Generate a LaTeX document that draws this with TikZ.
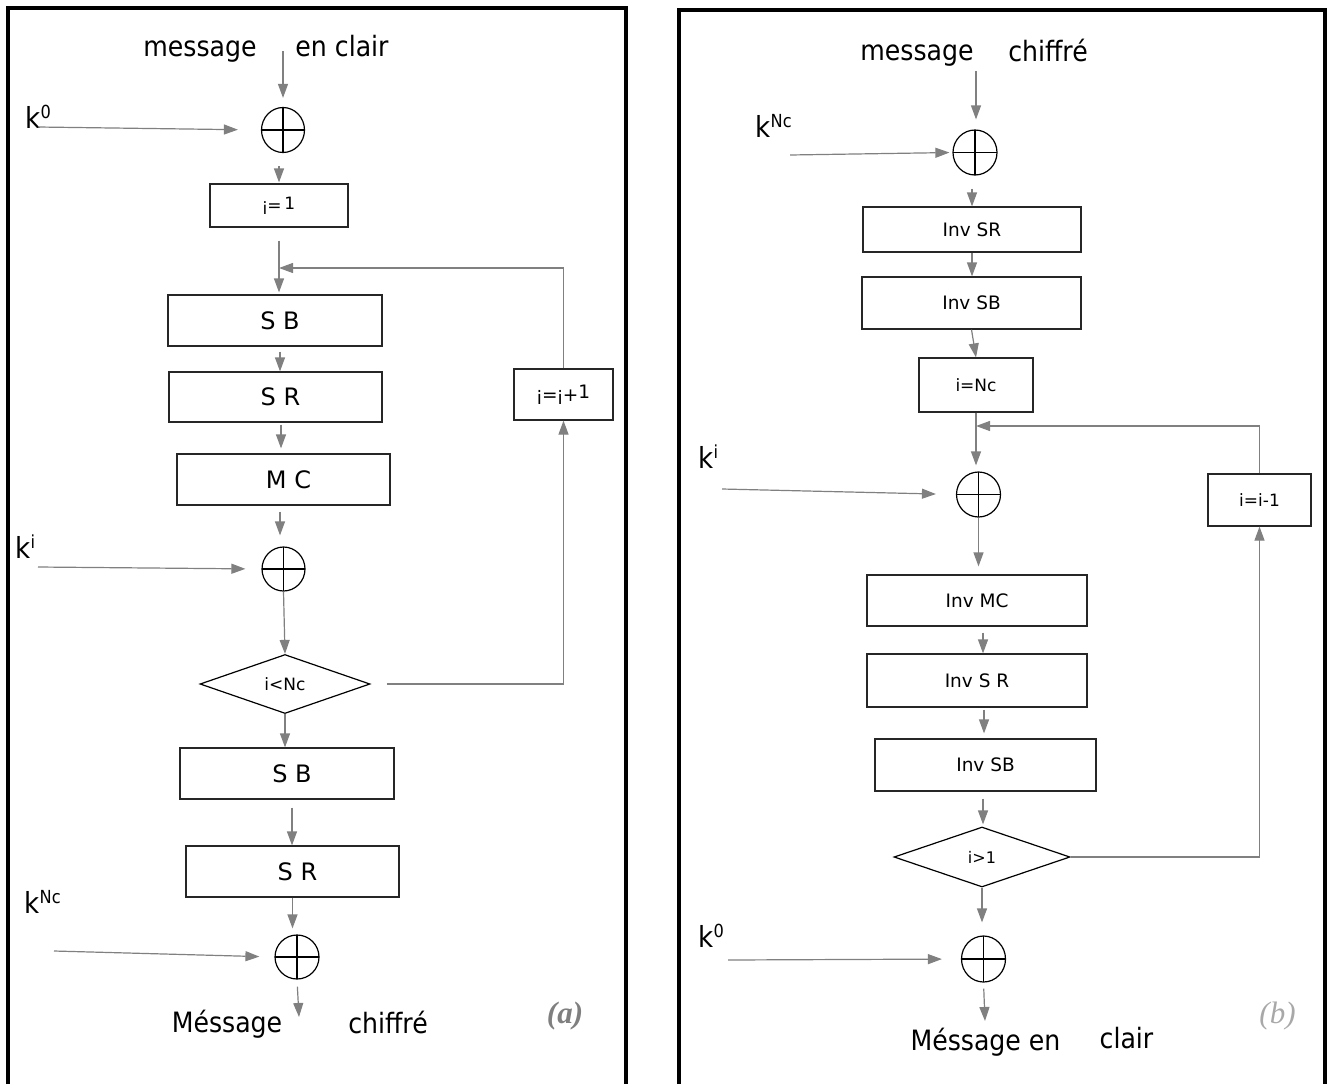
\documentclass[tikz,border=0pt]{standalone}
\usepackage{fontspec}
\setmainfont{DejaVu Sans}
\newfontfamily\condfont{DejaVu Sans Condensed}
\newfontfamily\tagfont{Liberation Serif}
\usetikzlibrary{arrows.meta,shapes.geometric,calc}

\definecolor{linegray}{HTML}{808080}
\definecolor{tagA}{HTML}{7F7F7F}
\definecolor{tagB}{HTML}{A8A8A8}

\newcommand\fs[1]{\fontsize{#1}{#1}\selectfont}
% key label: k with a raised exponent
\newcommand\keyk[1]{k{\fs{18}\raisebox{9.5pt}{#1}}}

\begin{document}
\begin{tikzpicture}[x=1pt,y=-1pt,
  frame/.style={line width=4.5pt, line join=miter},
  stepbox/.style={draw=black!85, line width=1.2pt, rectangle, inner sep=0pt, font=\fs{24}},
  invbox/.style={stepbox, font=\fs{18.5}},
  smallbox/.style={stepbox, font=\fs{17}},
  xorop/.style={draw=black, line width=1.2pt, ellipse, inner sep=0pt,
    minimum width=44pt, minimum height=45pt,
    path picture={\draw[line width=1.2pt]
      (path picture bounding box.north) -- (path picture bounding box.south)
      (path picture bounding box.west) -- (path picture bounding box.east);}},
  test/.style={draw=black, line width=1.2pt, diamond, inner sep=0pt, font=\fs{17}},
  flow/.style={draw=linegray, line width=1.2pt, -{Triangle[length=14pt,width=10pt]}},
  io/.style={font=\condfont\fs{28}, anchor=base},
  key/.style={font=\condfont\fs{29}, anchor=base west},
]
\useasboundingbox (0,0) rectangle (1329,1084);

% ---------- panel frames ----------
\draw[frame] (8,1084) -- (8,8) -- (626,8) -- (626,1084);
\draw[frame] (679,1084) -- (679,10) -- (1325,10) -- (1325,1084);

% ================= (a) encryption =================
\node[io] (msgA) at (200,56) {message};
\node[io] (clrA) at (342,56) {en clair};
\coordinate (inA) at (283,51);
\node[xorop, minimum width=43pt] (xa1) at (283,130) {};
\node[key] (kA0) at (22,128) {\keyk{0}};
\coordinate (kA0s) at (38,127);

\node[stepbox, font=\fs{17}, minimum width=138pt, minimum height=43pt] (i1) at (279,205.5)
  {i\raisebox{3pt}{=}\,\raisebox{5pt}{1}};
\coordinate (fbA) at (279,268);
\node[stepbox, minimum width=214pt, minimum height=51pt] (sb1) at (275,320.5) {\hspace*{10pt}S B};
\node[stepbox, minimum width=213pt, minimum height=50pt] (sr1) at (275.5,397) {\hspace*{10pt}S R};
\node[stepbox, minimum width=213pt, minimum height=51pt] (mc1) at (283.5,479.5) {\hspace*{10pt}M C};
\node[xorop, minimum width=43pt, minimum height=44pt] (xa2) at (283.5,569) {};
\node[key] (kAi) at (12,558) {\keyk{i}};
\coordinate (kAis) at (38,567);
\node[test, minimum width=170pt, minimum height=59pt, aspect=2.88] (d1) at (285,684) {i<Nc};
\node[smallbox, font=\fs{18.5}, minimum width=99pt, minimum height=51pt] (inc) at (563.5,394.5)
  {i\raisebox{3pt}{=}i\raisebox{3pt}{+}\raisebox{6pt}{1}};
\node[stepbox, minimum width=214pt, minimum height=51pt] (sb2) at (287,773.5) {\hspace*{10pt}S B};
\node[stepbox, minimum width=213pt, minimum height=51pt] (sr2) at (292.5,871.5) {\hspace*{10pt}S R};
\node[xorop, minimum height=44pt] (xa3) at (297,957) {};
\node[key] (kANc) at (21,913) {\keyk{Nc}};
\coordinate (kANcs) at (54,951);
\coordinate (outA) at (299,1017);
\node[io] (resA1) at (227,1032) {Méssage};
\node[io] (resA2) at (388,1033) {chiffré};
\node[font=\tagfont\bfseries\itshape\fs{31}, text=tagA] (tagA) at (565,1016) {(a)};

\draw[flow, shorten >=9pt] (inA) -- (xa1.north);
\draw[flow, shorten >=23pt] (kA0s) -- (xa1.west);
\draw[flow, shorten <=13pt, shorten >=1pt] (xa1.south -| i1.north) -- (i1.north);
\draw[flow, shorten <=13pt, shorten >=2pt] (i1.south) -- (i1.south |- sb1.north);
\draw[flow, shorten <=5pt] ([xshift=5pt]sb1.south) -- ([xshift=5pt]sb1.south |- sr1.north);
\draw[flow, shorten <=2pt, shorten >=5pt] ([xshift=5.5pt]sr1.south) -- ([xshift=5.5pt]sr1.south |- mc1.north);
\draw[flow, shorten <=6pt, shorten >=11pt] ([xshift=-3.5pt]mc1.south) -- ([xshift=-3.5pt]mc1.south |- xa2.north);
\draw[flow, shorten >=16pt] (kAis) -- (xa2.west);
\draw[flow] (xa2.south) -- (d1.north);
\draw[flow, shorten <=16pt] (d1.east) -| (inc.south);
\draw[flow] (inc.north) |- (fbA);
\draw[flow] (d1.south) -- (d1.south |- sb2.north);
\draw[flow, shorten <=8pt] ([xshift=5pt]sb2.south) -- ([xshift=5pt]sb2.south |- sr2.north);
\draw[flow, shorten >=6pt] (sr2.south) -- (sr2.south |- xa3.north);
\draw[flow, shorten >=15pt] (kANcs) -- (xa3.west);
\draw[flow, shorten <=7pt] (xa3.south) -- (outA);

% ================= (b) decryption =================
\node[io] (msgB) at (917,60) {message};
\node[io] (chfB) at (1048,61) {chiffré};
\coordinate (inB) at (976,71);
\node[xorop] (xb1) at (975,152.5) {};
\node[key] (kBNc) at (752,137) {\keyk{Nc}};
\coordinate (kBNcs) at (790,155);
\node[invbox, minimum width=218pt, minimum height=45pt] (isr) at (972,229.5) {Inv SR};
\node[invbox, minimum width=219pt, minimum height=52pt] (isb) at (971.5,303) {Inv SB};
\node[smallbox, minimum width=114pt, minimum height=54pt] (inN) at (976,385) {i=Nc};
\coordinate (fbB) at (976,426);
\node[xorop] (xb2) at (978.5,494.5) {};
\node[key] (kBi) at (695,468) {\keyk{i}};
\coordinate (kBis) at (722,489);
\node[invbox, minimum width=220pt, minimum height=51pt] (imc) at (977,600.5) {Inv MC};
\node[invbox, minimum width=220pt, minimum height=53pt] (isr2) at (977,680.5) {Inv S R};
\node[invbox, minimum width=221pt, minimum height=52pt] (isb2) at (985.5,765) {Inv SB};
\node[test, font=\fs{16}, minimum width=176pt, minimum height=60pt, aspect=2.93] (d2) at (982,857) {i>1};
\node[smallbox, minimum width=103pt, minimum height=52pt] (dec) at (1259.5,500) {i=i-1};
\node[xorop, minimum height=46pt] (xb3) at (983.5,959) {};
\node[key] (kB0) at (695,947) {\keyk{0}};
\coordinate (kB0s) at (728,960);
\coordinate (outB) at (985,1021);
\node[io] (resB1) at (985.5,1050) {Méssage en};
\node[io] (resB2) at (1126.5,1048) {clair};
\node[font=\tagfont\itshape\fs{31}, text=tagB] (tagB) at (1277.5,1016) {(b)};

\draw[flow, shorten >=10pt] (inB) -- (inB |- xb1.north);
\draw[flow, shorten >=3pt] (kBNcs) -- (xb1.west);
\draw[flow, shorten <=13pt] (xb1.south -| isr.north) -- (isr.north);
\draw[flow] (isr.south) -- (isr.south |- isb.north);
\draw[flow] (isb.south) -- (inN.north);
\draw[flow, shorten >=6pt] (inN.south) -- (inN.south |- xb2.north);
\draw[flow, shorten >=20pt] (kBis) -- (xb2.west);
\draw[flow, shorten >=8pt] (xb2.south) -- (xb2.south |- imc.north);
\draw[flow, shorten <=6pt] ([xshift=6pt]imc.south) -- ([xshift=6pt]imc.south |- isr2.north);
\draw[flow, shorten <=2pt, shorten >=5pt] ([xshift=7pt]isr2.south) -- ([xshift=7pt]isr2.south |- isb2.north);
\draw[flow, shorten <=7pt, shorten >=2pt] ([xshift=-2.5pt]isb2.south) -- ([xshift=-2.5pt]isb2.south |- d2.north);
\draw[flow] (d2.east) -| (dec.south);
\draw[flow] (dec.north) |- (fbB);
\draw[flow, shorten >=13pt] (d2.south) -- (d2.south |- xb3.north);
\draw[flow, shorten >=19pt] (kB0s) -- (xb3.west);
\draw[flow, shorten <=6pt] (xb3.south) -- (outB);
\end{tikzpicture}
\end{document}
